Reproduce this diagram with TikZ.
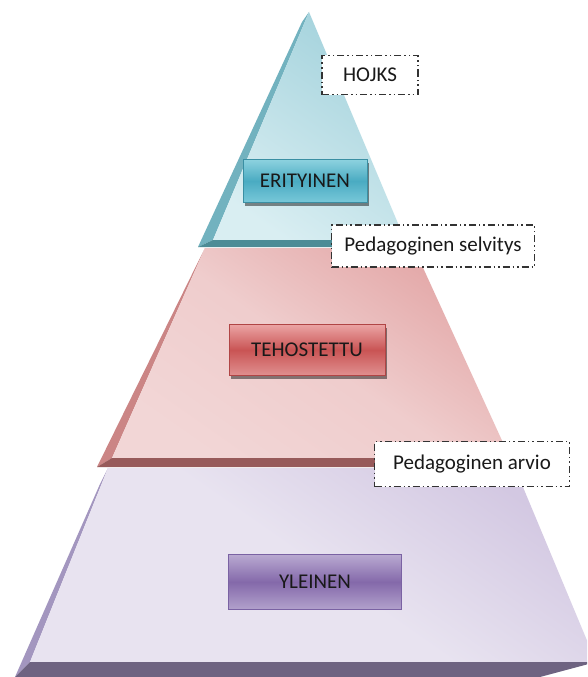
\documentclass[tikz,border=0pt]{standalone}
\usepackage{fontspec}
\setmainfont{Carlito}
\usetikzlibrary{shadows}
\definecolor{bluetop}{HTML}{A3D2DC}
\definecolor{bluelow}{HTML}{D9EEF2}
\definecolor{bluebevel}{HTML}{72B2BF}
\definecolor{bluestrip}{HTML}{4C8C96}
\definecolor{pinktop}{HTML}{E3A7A7}
\definecolor{pinklow}{HTML}{F2D6D6}
\definecolor{pinkbevel}{HTML}{CB8585}
\definecolor{pinkstrip}{HTML}{975A5A}
\definecolor{purptop}{HTML}{D3C8E2}
\definecolor{purplow}{HTML}{E8E3F0}
\definecolor{purpbevel}{HTML}{A396BF}
\definecolor{purpstrip}{HTML}{6E6381}
\definecolor{eritop}{HTML}{8DD2DF}
\definecolor{erimid}{HTML}{4AABC2}
\definecolor{eribot}{HTML}{78C8D9}
\definecolor{eriline}{HTML}{3A8FA3}
\definecolor{tehtop}{HTML}{EBA4A4}
\definecolor{tehmid}{HTML}{C95454}
\definecolor{tehbot}{HTML}{E09090}
\definecolor{tehline}{HTML}{B04545}
\definecolor{yletop}{HTML}{B9A9D1}
\definecolor{ylemid}{HTML}{8469AA}
\definecolor{ylebot}{HTML}{B2A1CC}
\definecolor{yleline}{HTML}{7A62A3}
\tikzset{
  tierbox/.style={rectangle, draw, line width=0.8pt, text=black!90,
    font=\fontsize{21}{24}\selectfont},
  notebox/.style={rectangle, draw=black!80, fill=white, line width=1.2pt,
    dash pattern=on 7pt off 3pt on 1.5pt off 3pt on 1.5pt off 3pt,
    text=black!90, font=\fontsize{21}{24}\selectfont},
  boxshadow/.style={drop shadow={shadow xshift=2pt, shadow yshift=-3pt,
    fill=black, opacity=0.45}}
}

\begin{document}
\begin{tikzpicture}[x=1pt,y=-1pt]
\useasboundingbox (0,0) rectangle (587,677);
\clip (0,0) rectangle (587,677);
\fill[white] (0,0) rectangle (587,677);

% top layer
\fill[bluebevel] (309,12) -- (213,240) -- (198,247) -- (302,22) -- cycle;
\shade[top color=bluetop, bottom color=bluelow, shading angle=-35]
  (309,12) -- (405,240) -- (213,240) -- cycle;
\fill[bluestrip] (213,240) -- (405,240) -- (395,247) -- (198,247) -- cycle;

% middle layer
\fill[pinkbevel] (205,248) -- (112,458) -- (97,467) -- (200,258) -- cycle;
\shade[top color=pinktop, bottom color=pinklow, middle color=pinklow!80!pinktop, shading angle=-35]
  (205,248) -- (414,248) -- (510,458) -- (112,458) -- cycle;
\fill[pinkstrip] (112,458) -- (510,458) -- (498,467) -- (97,467) -- cycle;

% bottom layer
\fill[purpbevel] (108,468) -- (30,662) -- (15,677) -- (100,484) -- cycle;
\shade[top color=purptop, bottom color=purplow, middle color=purplow, shading angle=-35]
  (108,468) -- (515,468) -- (596,662) -- (30,662) -- cycle;
\fill[purpstrip] (30,662) -- (596,662) -- (540,677) -- (15,677) -- cycle;

% level labels
\node[tierbox, boxshadow, draw=eriline, top color=eritop, bottom color=eribot,
  middle color=erimid, minimum width=124pt, minimum height=43pt] (erityinen) at (305,181) {ERITYINEN};
\node[tierbox, boxshadow, draw=tehline, top color=tehtop, bottom color=tehbot,
  middle color=tehmid, minimum width=156pt, minimum height=51pt] (tehostettu) at (307,350) {TEHOSTETTU};
\node[tierbox, draw=yleline, top color=yletop, bottom color=ylebot,
  middle color=ylemid, minimum width=173pt, minimum height=55pt] (yleinen) at (315,582) {YLEINEN};

% documents
\node[notebox, minimum width=96pt, minimum height=39pt] (hojks) at (370,75) {HOJKS};
\node[notebox, minimum width=203pt, minimum height=42pt] (selvitys) at (433,246) {Pedagoginen selvitys};
\node[notebox, minimum width=195pt, minimum height=45pt] (arvio) at (472,464) {Pedagoginen arvio};
\end{tikzpicture}
\end{document}
